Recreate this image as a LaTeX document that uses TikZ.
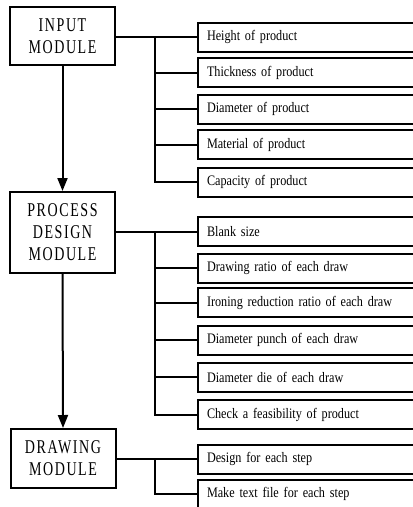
\documentclass[tikz,border=0pt]{standalone}
\usepackage{fontspec}
\setmainfont{Liberation Serif}
\newfontfamily\modfont[FakeStretch=0.72,LetterSpace=8]{Liberation Serif}
\newfontfamily\itemfont[FakeStretch=0.84]{Liberation Serif}
\usetikzlibrary{arrows.meta}
\begin{document}
\begin{tikzpicture}[x=1pt,y=-1pt,
  modbox/.style={draw,line width=2pt,minimum width=105pt,align=center,inner sep=0pt,
    font=\modfont\fontsize{19.5}{22}\selectfont},
  itembox/.style={draw,line width=2pt,anchor=west,minimum height=29pt,inner xsep=9pt,inner ysep=0pt,
    text width=202pt,align=left,font=\itemfont\fontsize{14.5}{16}\selectfont},
  link/.style={line width=2pt},
  flow/.style={line width=2pt,-{Triangle[length=13pt,width=10pt]}}]
\clip (0,0) rectangle (413,507);
% modules
\node[modbox,minimum height=58pt] (in) at (62.5,36) {INPUT\\MODULE};
\node[modbox,minimum height=81pt] (pd) at (62.5,232.5) {PROCESS\\DESIGN\\MODULE};
\node[modbox,minimum height=59pt] (dm) at (63,458.5) {DRAWING\\MODULE};
% items
\node[itembox] (i1) at (197,37) {Height of product};
\node[itembox] (i2) at (197,72.5) {Thickness of product};
\node[itembox] (i3) at (197,109) {Diameter of product};
\node[itembox] (i4) at (197,144.5) {Material of product};
\node[itembox] (i5) at (197,182) {Capacity of product};
\node[itembox] (p1) at (197,231.5) {Blank size};
\node[itembox] (p2) at (197,268) {Drawing ratio of each draw};
\node[itembox] (p3) at (197,302.5) {Ironing reduction ratio of each draw};
\node[itembox] (p4) at (197,340) {Diameter punch of each draw};
\node[itembox] (p5) at (197,377) {Diameter die of each draw};
\node[itembox] (p6) at (197,414.5) {Check a feasibility of product};
\node[itembox] (d1) at (197,459) {Design for each step};
\node[itembox] (d2) at (197,494) {Make text file for each step};
% trunk coordinates
\coordinate (ta) at (155,37);
\coordinate (tb) at (155,231.5);
\coordinate (tc) at (155,459);
% input connectors
\draw[link] (in.east |- i1.west) -- (i1.west);
\draw[link] (ta) |- (i5.west);
\foreach \n in {i2,i3,i4}{\draw[link] (\n.west -| ta) -- (\n.west);}
% process connectors
\draw[link] (pd.east |- p1.west) -- (p1.west);
\draw[link] (tb) |- (p6.west);
\foreach \n in {p2,p3,p4,p5}{\draw[link] (\n.west -| tb) -- (\n.west);}
% drawing connectors
\draw[link] (dm.east |- d1.west) -- (d1.west);
\draw[link] (tc) |- (d2.west);
% flow arrows
\draw[flow] (in.south) -- (pd.north);
\draw[flow] (pd.south) -- (dm.north);
\end{tikzpicture}
\end{document}
